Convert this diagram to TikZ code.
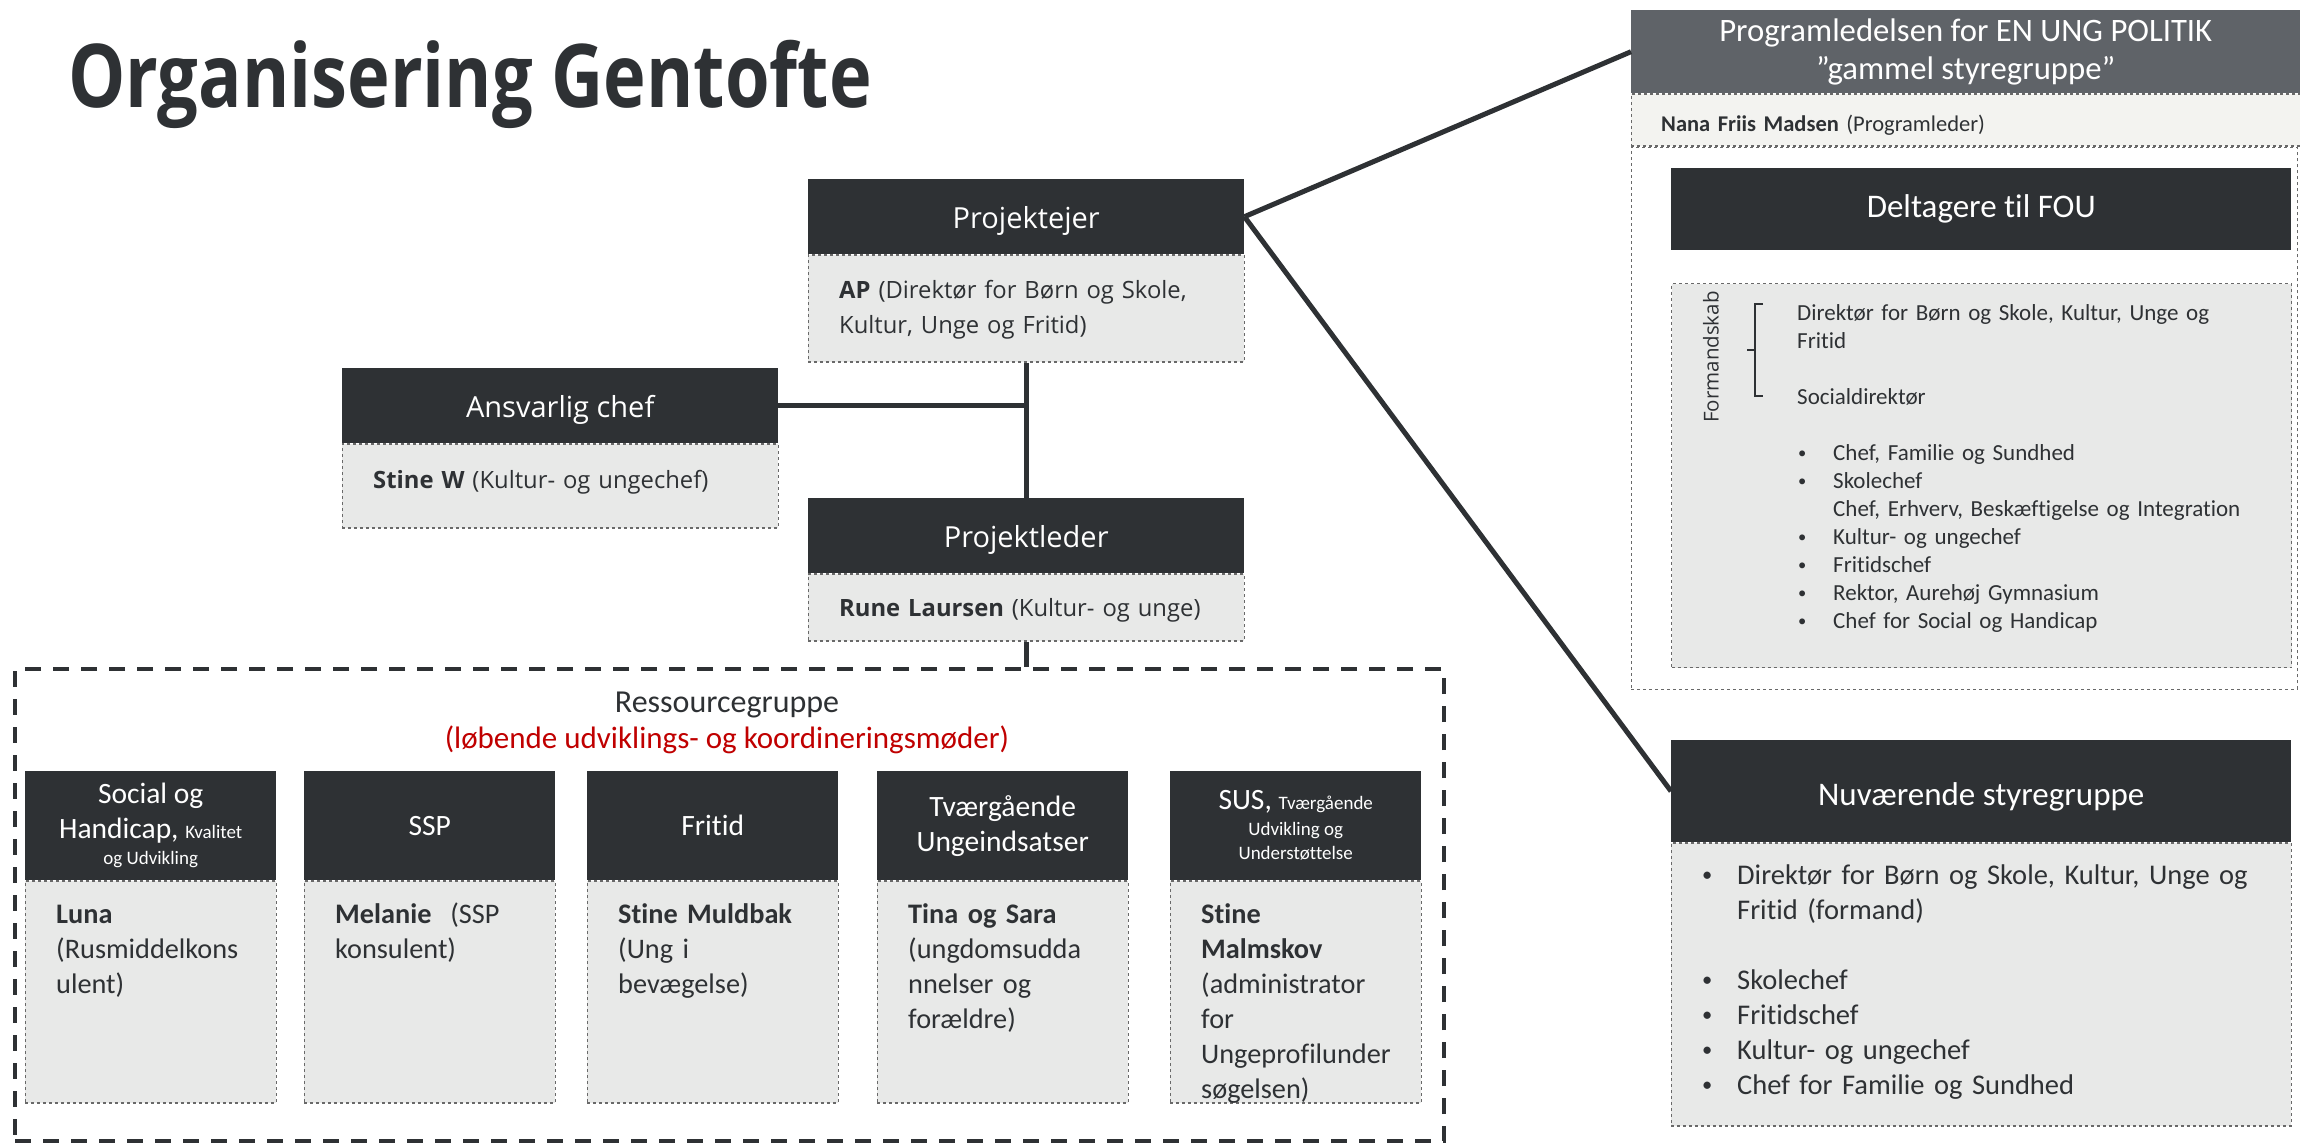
\documentclass[tikz,border=0pt]{standalone}
\usepackage{fontspec}
\usepackage{graphicx}
\setmainfont{Carlito}[Ligatures=NoCommon]
\newfontfamily\roundfont{Open Sans}
\usepackage{tikz}
\usetikzlibrary{positioning,calc}
\newcommand{\sz}[2]{\fontsize{#1}{#2}\selectfont}
\newcommand{\bul}[1]{\makebox[#1][l]{\raisebox{0.08em}{\scalebox{0.72}{\textbullet}}}}
\hyphenpenalty=10000
\definecolor{Ink}{RGB}{46,49,52}
\definecolor{Slate}{RGB}{95,99,104}
\definecolor{Paper}{RGB}{232,233,232}
\definecolor{Cream}{RGB}{243,243,240}
\definecolor{Dash}{RGB}{105,105,105}
\definecolor{Alert}{RGB}{192,0,0}
\tikzset{
  head/.style={fill=Ink,text=white,inner sep=0pt,align=center},
  body/.style={fill=Paper,draw=Dash,dashed,line width=1.3pt,inner ysep=0pt,inner xsep=31pt,align=left,text=Ink},
  link/.style={draw=Ink,line width=5pt},
  midhead/.style={head,minimum width=436pt,font=\roundfont\sz{29}{35},text height=49pt,text depth=26pt},
  midbody/.style={body,text width=374pt,font=\roundfont\sz{23.8}{35}},
  colhead/.style={head,minimum width=251pt,minimum height=109pt,font=\sz{29.5}{35}},
  colbody/.style={body,text width=189pt,text height=42pt,text depth=180pt,font=\sz{28.3}{35}},
  panelhead/.style={head,minimum width=620pt,font=\sz{33}{37}},
}

\begin{document}
\begin{tikzpicture}[x=1pt,y=-1pt]
  \fill[white] (0,0) rectangle (2300,1143);
  \useasboundingbox (0,0) rectangle (2300,1143);

  \node[anchor=base west, text=Ink, inner sep=0pt, font=\roundfont\bfseries\sz{88}{88}] (title) at (68,107)
    {\scalebox{0.82}[1]{Organisering Gentofte}};

  % --- project line ---
  \node[midhead, anchor=north west] (eje) at (808,179) {Projektejer};
  \node[midbody, below=0pt of eje, text height=43pt, text depth=64pt] (ejeB)
    {\textbf{AP} (Direktør for Børn og Skole,\\Kultur, Unge og Fritid)};

  \node[midhead, anchor=north west] (chef) at (342,368) {Ansvarlig chef};
  \node[midbody, below=0pt of chef, text height=44pt, text depth=40pt] (chefB)
    {\textbf{Stine W} (Kultur- og ungechef)};

  \node[midhead, anchor=north west] (leder) at (808,498) {Projektleder};
  \node[midbody, below=0pt of leder, text height=42pt, text depth=25pt] (lederB)
    {\textbf{Rune Laursen} (Kultur- og unge)};

  \draw[link] (ejeB) -- (leder);
  \draw[link] (chef.east) -- (chef.east -| ejeB.south);

  % --- ressourcegruppe ---
  \node[draw=Ink, line width=4pt, dash pattern=on 16pt off 12pt, inner sep=0pt,
        minimum width=1429pt, minimum height=472pt, anchor=north west] (res) at (13,667) {};
  \node[anchor=base, align=center, text=Ink, font=\sz{32}{36}] (resT) at (727,748)
    {Ressourcegruppe\\{\sz{31}{36}\color{Alert}(løbende udviklings- og koordineringsmøder)}};
  \draw[link] (lederB.south) -- (lederB.south |- res.north);

  \node[colhead, anchor=north west] (social) at (25,771)
    {Social og\\Handicap, {\sz{19}{25}Kvalitet}\\[-9pt]{\sz{19}{25}og Udvikling}};
  \node[colbody, below=0pt of social] (socialB) {\textbf{Luna}\\(Rusmiddelkons\\ulent)};

  \node[colhead, anchor=north west] (ssp) at (304,771) {SSP};
  \node[colbody, below=0pt of ssp] (sspB) {\textbf{Melanie}\ \ (SSP\\konsulent)};

  \node[colhead, anchor=north west] (fritid) at (587,771) {Fritid};
  \node[colbody, below=0pt of fritid] (fritidB) {\textbf{Stine Muldbak}\\(Ung i\\bevægelse)};

  \node[colhead, anchor=north west] (tvaer) at (877,771) {Tværgående\\Ungeindsatser};
  \node[colbody, below=0pt of tvaer] (tvaerB) {\textbf{Tina og Sara}\\(ungdomsudda\\nnelser og\\forældre)};

  \node[colhead, anchor=north west] (sus) at (1170,771)
    {SUS, {\sz{19}{25}Tværgående}\\[-9pt]{\sz{19}{25}Udvikling og}\\[-11pt]{\sz{19}{25}Understøttelse}};
  \node[colbody, below=0pt of sus] (susB)
    {\textbf{Stine}\\\textbf{Malmskov}\\(administrator\\for\\Ungeprofilunder\\søgelsen)};

  % --- programledelse ---
  \node[head, fill=Slate, minimum width=669pt, minimum height=83pt, font=\sz{32.7}{38}, anchor=north west] (prog) at (1631,10)
    {Programledelsen for EN UNG POLITIK\\”gammel styregruppe”};
  \node[fill=Cream, draw=Dash, dashed, line width=1.3pt, inner xsep=30pt, inner ysep=0pt, text width=609pt,
        align=left, text=Ink, font=\sz{22.5}{26}, text height=37pt, text depth=15pt, below=0pt of prog] (nana)
    {\textbf{Nana Friis Madsen} (Programleder)};
  \node[draw=Dash, dashed, line width=1.3pt, minimum width=666pt, minimum height=542pt, inner sep=0pt,
        anchor=north west] (fou) at (nana.south west) {};

  \node[panelhead, minimum height=82pt, anchor=north west] (delt) at (1671,168) {Deltagere til FOU};
  \node[fill=Paper, draw=Dash, dashed, line width=1.3pt, minimum width=620pt, minimum height=384pt,
        inner sep=0pt, anchor=north west] (form) at (1671,283) {};
  \node[rotate=90, text=Ink, font=\roundfont\sz{20.5}{24}] (formL) at (1711,357) {Formandskab};
  \draw[Ink, line width=1.8pt] (1763,304) -| (1755,396) -- (1763,396);
  \draw[Ink, line width=1.8pt] (1755,350) -- (1747,350);
  \node[anchor=base west, inner sep=0pt, text width=490pt, align=left, text=Ink, font=\sz{23}{28}] (formList) at (1797,320)
    {Direktør for Børn og Skole, Kultur, Unge og\\
     Fritid\\[28pt]
     Socialdirektør\\[28pt]
     \hspace*{1pt}\bul{35pt}Chef, Familie og Sundhed\\
     \hspace*{1pt}\bul{35pt}Skolechef\\
     \hspace*{36pt}Chef, Erhverv, Beskæftigelse og Integration\\
     \hspace*{1pt}\bul{35pt}Kultur- og ungechef\\
     \hspace*{1pt}\bul{35pt}Fritidschef\\
     \hspace*{1pt}\bul{35pt}Rektor, Aurehøj Gymnasium\\
     \hspace*{1pt}\bul{35pt}Chef for Social og Handicap};

  % --- nuvaerende styregruppe ---
  \node[panelhead, text height=65pt, text depth=37pt, anchor=north west] (nu) at (1671,740) {Nuværende styregruppe};
  \node[body, below=0pt of nu, text width=558pt, text height=41pt, text depth=242pt, font=\sz{28.5}{35}] (nuB)
    {\bul{35pt}Direktør for Børn og Skole, Kultur, Unge og\\
     \hspace*{35pt}Fritid (formand)\\[35pt]
     \bul{35pt}Skolechef\\
     \bul{35pt}Fritidschef\\
     \bul{35pt}Kultur- og ungechef\\
     \bul{35pt}Chef for Familie og Sundhed};

  \draw[link] (eje.east) -- (prog.west);
  \draw[link] (eje.east) -- (nu.west);
\end{tikzpicture}
\end{document}
